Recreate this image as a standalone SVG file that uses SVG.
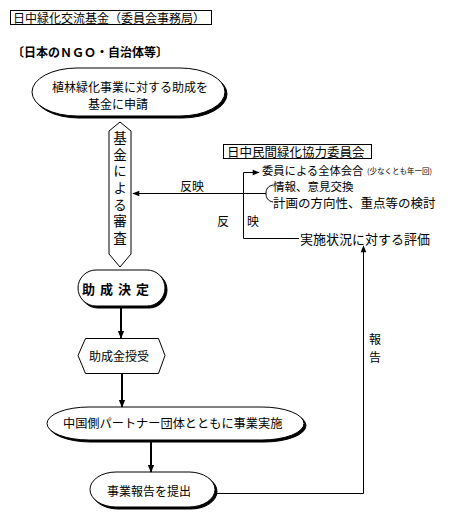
<svg xmlns="http://www.w3.org/2000/svg" width="455" height="520" viewBox="0 0 455 520">
<defs>
<style>
text{font-family:"Noto Sans CJK JP","Noto Sans CJK SC",sans-serif;fill:#000;dominant-baseline:central}
.t12{font-size:12px}
.vt{font-size:13.5px;writing-mode:vertical-rl;letter-spacing:3.2px}
.box{fill:#fff;stroke:#000;stroke-width:1}
.shadow{fill:#000;stroke:#000;stroke-width:1}
.thick{fill:none;stroke:#000;stroke-width:2}
.thin{fill:none;stroke:#000;stroke-width:1}
</style>
<marker id="ah" viewBox="0 0 10 10" refX="9" refY="5" markerWidth="4" markerHeight="4" orient="auto" markerUnits="strokeWidth">
<path d="M0,1 L10,5 L0,9 z" fill="#000"/>
</marker>
<marker id="ahs" viewBox="0 0 10 10" refX="9" refY="5" markerWidth="8" markerHeight="7" orient="auto" markerUnits="strokeWidth">
<path d="M0,1 L10,5 L0,9 z" fill="#000"/>
</marker>
</defs>
<rect width="455" height="520" fill="#fff"/>

<g id="title">
<rect x="10.5" y="10.5" width="201" height="14" class="box"/>
<text x="13" y="17.5" class="t12">日中緑化交流基金（委員会事務局）</text>
</g>

<g id="ngo-label">
<text x="12" y="51" style="font-size:12px;font-weight:bold">〔日本のＮＧＯ・自治体等〕</text>
</g>

<g id="apply">
<rect x="34" y="70" width="193" height="48" rx="45" ry="24" class="shadow"/>
<rect x="32" y="68" width="193" height="48" rx="45" ry="24" class="box"/>
<text x="52" y="86" class="t12">植林緑化事業に対する助成を</text>
<text x="88" y="103" class="t12">基金に申請</text>
</g>

<g id="review">
<polygon points="120,122 131,131 131,254 120,267 109,254 109,131" class="box"/>
<text x="120" y="131" class="vt">基金による審査</text>
</g>

<g id="decision">
<rect x="80" y="272" width="87" height="36" rx="18" ry="18" class="shadow"/>
<rect x="78" y="270" width="87" height="36" rx="18" ry="18" class="box"/>
<text x="82" y="288" style="font-size:13px;font-weight:bold;letter-spacing:5px">助成決定</text>
</g>

<g id="grant">
<polygon points="78,355.5 85.5,338.5 158.5,338.5 165,355.5 158.5,373.5 85.5,373.5" class="box"/>
<text x="89" y="355" class="t12">助成金授受</text>
</g>

<g id="implement">
<rect x="49" y="409" width="257" height="33" rx="42" ry="16.5" class="shadow"/>
<rect x="47" y="407" width="257" height="33" rx="42" ry="16.5" class="box"/>
<text x="63" y="423" style="font-size:12.2px">中国側パートナー団体とともに事業実施</text>
</g>

<g id="report">
<rect x="92" y="474" width="125" height="35" rx="26" ry="17.5" class="shadow"/>
<rect x="90" y="472" width="125" height="35" rx="26" ry="17.5" class="box"/>
<text x="107" y="490" class="t12">事業報告を提出</text>
</g>

<g id="committee">
<rect x="223.5" y="144.5" width="148" height="14" class="box"/>
<text x="227" y="151.5" style="font-size:12.5px">日中民間緑化協力委員会</text>
<text x="262" y="169.5" style="font-size:11.3px">委員による全体会合</text>
<text x="367" y="170" style="font-size:7.5px">(少なくとも年一回)</text>
<text x="273" y="185.5" style="font-size:11.5px">情報、意見交換</text>
<text x="273" y="202.5" style="font-size:12.5px">計画の方向性、重点等の検討</text>
<text x="300" y="238" style="font-size:13px">実施状況に対する評価</text>
</g>

<g id="connectors">
<line x1="121" y1="306" x2="121" y2="338" class="thick" marker-end="url(#ah)"/>
<line x1="122" y1="373" x2="122" y2="407" class="thick" marker-end="url(#ah)"/>
<line x1="151" y1="441" x2="151" y2="472" class="thick" marker-end="url(#ah)"/>
<polyline points="215,493.5 363.5,493.5 363.5,246" class="thin" marker-end="url(#ahs)"/>
<line x1="266" y1="193.5" x2="133" y2="193.5" class="thin" marker-end="url(#ahs)"/>
<polyline points="299,238.5 243.5,238.5 243.5,172.5 259,172.5" class="thin" marker-end="url(#ahs)"/>
<path d="M273,185 C268,186 266,189 266,193.5 C266,198 268,201 273,202" class="thin"/>
<text x="180" y="185" class="t12">反映</text>
<text x="223" y="220" class="t12" text-anchor="middle">反</text>
<text x="253" y="220" class="t12" text-anchor="middle">映</text>
<text x="375" y="338" class="t12" text-anchor="middle">報</text>
<text x="375" y="356" class="t12" text-anchor="middle">告</text>
</g>
</svg>
